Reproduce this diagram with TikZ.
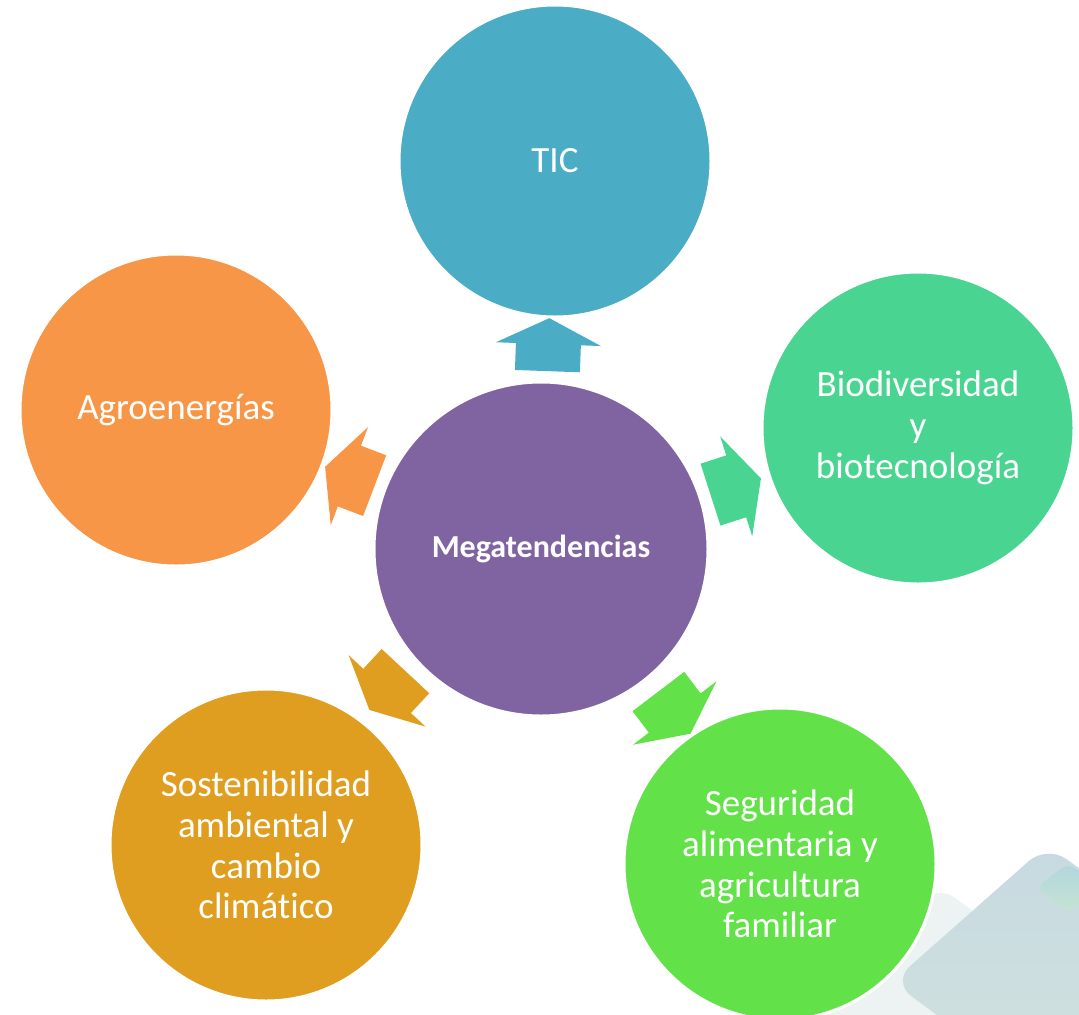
\documentclass[tikz,border=0pt]{standalone}
\usepackage{fontspec}
\setmainfont{Carlito}[Ligatures=NoCommon]
\usetikzlibrary{calc}
\definecolor{ticc}{HTML}{4BACC6}
\definecolor{agroc}{HTML}{F79646}
\definecolor{bioc}{HTML}{4AD491}
\definecolor{megac}{HTML}{8064A2}
\definecolor{sostc}{HTML}{E09E20}
\definecolor{segc}{HTML}{62E248}
\definecolor{decoA}{HTML}{EDF3F3}
\definecolor{decoB1}{HTML}{C7DAE1}
\definecolor{decoB2}{HTML}{D4E4DB}
\definecolor{decoC1}{HTML}{B1D6DE}
\definecolor{decoC2}{HTML}{C6E4D3}
\tikzset{
  bubble/.style={circle, draw=white, line width=3bp, minimum size=312bp, inner sep=0pt,
    text=white, align=center, font=\fontsize{37bp}{40.8bp}\selectfont},
  hubble/.style={bubble, minimum size=334bp, font=\fontsize{32bp}{36bp}\selectfont\bfseries}
}
\newcommand\megaarrow[4]{%
  \path let \p1=($(#1.center)-(mega.center)$) in
    \pgfextra{\pgfmathsetmacro\arrang{atan2(\y1,\x1)}\xdef\arrang{\arrang}};
  \fill[#2, shift={($(mega.center)+(#3,#4)$)}, rotate=\arrang]
    (178,-32.5) -- (205,-32.5) -- (205,-52.5) -- (231,0) -- (205,52.5) -- (205,32.5) -- (178,32.5) -- cycle;
}
\begin{document}
\begin{tikzpicture}[x=1bp,y=-1bp]
\useasboundingbox (0,0) rectangle (1079,1015);
\begin{scope}
  \clip (0,0) rectangle (1079,1015);
  \fill[decoA, rounded corners=20bp] (939,886) -- (1250,1115) -- (939,1340) -- (640,1115) -- cycle;
  \shade[top color=decoB1, bottom color=decoB2, rounded corners=24bp]
    (892,982) -- (1047,845) -- (1330,1050) -- (1175,1190) -- cycle;
  \shade[top color=decoC1, bottom color=decoC2, rounded corners=9bp]
    (1036,888) -- (1068,863) -- (1102,888) -- (1070,913) -- cycle;
\end{scope}

\node[hubble, fill=megac] (mega) at (541,549) {Megatendencias};
\node[bubble, fill=ticc] (tic) at (555,161) {TIC};
\node[bubble, fill=agroc] (agro) at (176,410) {Agroenergías};
\node[bubble, fill=bioc] (bio) at (918,428) {Biodiversidad\\y\\biotecnología};
\node[bubble, fill=sostc] (sost) at (266,845) {Sostenibilidad\\ambiental y\\cambio\\climático};
\node[bubble, fill=segc] (seg) at (780,864) {Seguridad\\alimentaria y\\agricultura\\familiar};

\megaarrow{tic}{ticc}{0}{0}
\megaarrow{agro}{agroc}{0}{0}
\megaarrow{bio}{bioc}{0}{0}
\megaarrow{sost}{sostc}{-14.4}{-8.3}
\megaarrow{seg}{segc}{9.8}{0.7}
\end{tikzpicture}
\end{document}
